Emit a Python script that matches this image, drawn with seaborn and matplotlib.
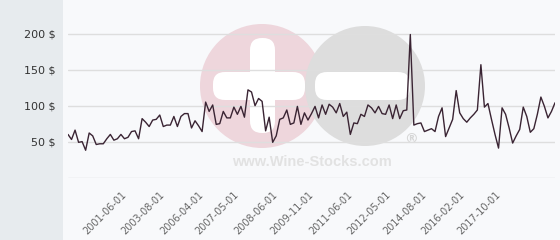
import matplotlib
matplotlib.use("Agg")
import matplotlib.pyplot as plt
from matplotlib.patches import Rectangle, Circle, FancyBboxPatch
import seaborn as sns
import numpy as np
import pandas as pd

# ---- data ----
prices = [
    60, 53, 66, 49, 50, 38, 62, 58, 46, 47, 47, 54, 60, 52, 54, 60, 54, 56, 64, 65,
    54, 82, 77, 71, 80, 81, 87, 71, 73, 73, 85, 71, 85, 89, 89,
    69, 79, 72, 64, 105, 92, 101, 74, 75, 92, 83, 83, 98, 88, 99, 84, 122, 119, 100,
    110, 106, 65, 84, 49, 58, 81, 83, 94, 74, 76, 99, 74, 90, 80, 89,
    99, 83, 101, 88, 102, 98, 90, 103, 85, 91, 60, 76, 75, 88, 85, 101, 97, 90, 99,
    89, 88, 101, 82, 101, 82, 93, 94, 199, 73, 75, 76, 64, 66,
    68, 64, 85, 97, 57, 69, 81, 121, 90, 82, 77, 83, 88, 94, 157, 98, 103, 81, 60,
    41, 97, 88, 69, 48, 58, 67, 98, 85, 63, 68, 88, 112, 99, 83, 92, 104,
]
tick_labels = ["2001-06-01", "2003-08-01", "2006-04-01", "2007-05-01", "2008-06-01",
               "2009-11-01", "2011-06-01", "2012-05-01", "2014-08-01", "2016-02-01",
               "2017-10-01"]
tick_index = [16, 27, 38, 48, 59, 69, 80, 91, 101, 112, 122]
y_ticks = [0, 50, 100, 150, 200]
y_tick_labels = ["", "50 $", "100 $", "150 $", "200 $"]

df = pd.DataFrame({"idx": np.arange(len(prices)), "price": prices})

sns.set_theme(style="white")
plt.rcParams["font.family"] = ["DejaVu Sans"]

W, H = 560, 240
fig = plt.figure(figsize=(W / 100, H / 100), dpi=100)
fig.patch.set_facecolor("#f8f9fb")

# background panels / watermark in pixel coordinates
bg = fig.add_axes([0, 0, 1, 1], zorder=0)
bg.set_xlim(0, W)
bg.set_ylim(H, 0)
bg.axis("off")
bg.add_patch(Rectangle((0, 0), 63, H, color="#e7ebee", lw=0))
bg.add_patch(Circle((262, 86), 62, color="#eed6dc", lw=0))
bg.add_patch(Circle((365, 86), 60, color="#dddddd", lw=0))
for (x0, y0, w, h) in [(213, 72, 92, 28), (250, 38, 25, 95), (315, 72, 95, 28)]:
    bg.add_patch(FancyBboxPatch((x0 + 12, y0 + 12), w - 24, h - 24,
                                boxstyle="round,pad=12", color="white", lw=0))
bg.text(312, 162, "www.Wine-Stocks.com", ha="center", va="center",
        fontsize=10.5, fontweight="bold", color="#e2e2e2",
        family=["Liberation Sans", "DejaVu Sans"])
bg.text(411, 139, "®", ha="center", va="center", fontsize=10,
        color="#d6d6d6", fontweight="bold")

# main axes
ax = fig.add_axes([68 / W, (H - 178) / H, 487 / W, 178 / H], zorder=1)
ax.set_facecolor("none")
sns.lineplot(data=df, x="idx", y="price", ax=ax, color="#3a2433", linewidth=1.0)
ax.set_xlim(0, len(prices) - 1)
ax.set_ylim(-0.6, 247)
ax.set_yticks(y_ticks, y_tick_labels)
ax.yaxis.grid(True, color="#dedede", linewidth=1)
ax.xaxis.grid(False)
for s in ax.spines.values():
    s.set_visible(False)
ax.tick_params(axis="y", length=0, pad=9, labelsize=8, labelcolor="#333333")
ax.set_xticks(tick_index, tick_labels)
ax.tick_params(axis="x", length=0, pad=11, labelsize=7, labelcolor="#666666")
for lab in ax.get_xticklabels():
    lab.set_rotation(45)
    lab.set_ha("right")
    lab.set_va("center")
    lab.set_rotation_mode("anchor")
ax.set_xlabel("")
ax.set_ylabel("")

fig.savefig("out.png", dpi=100, facecolor=fig.get_facecolor())
